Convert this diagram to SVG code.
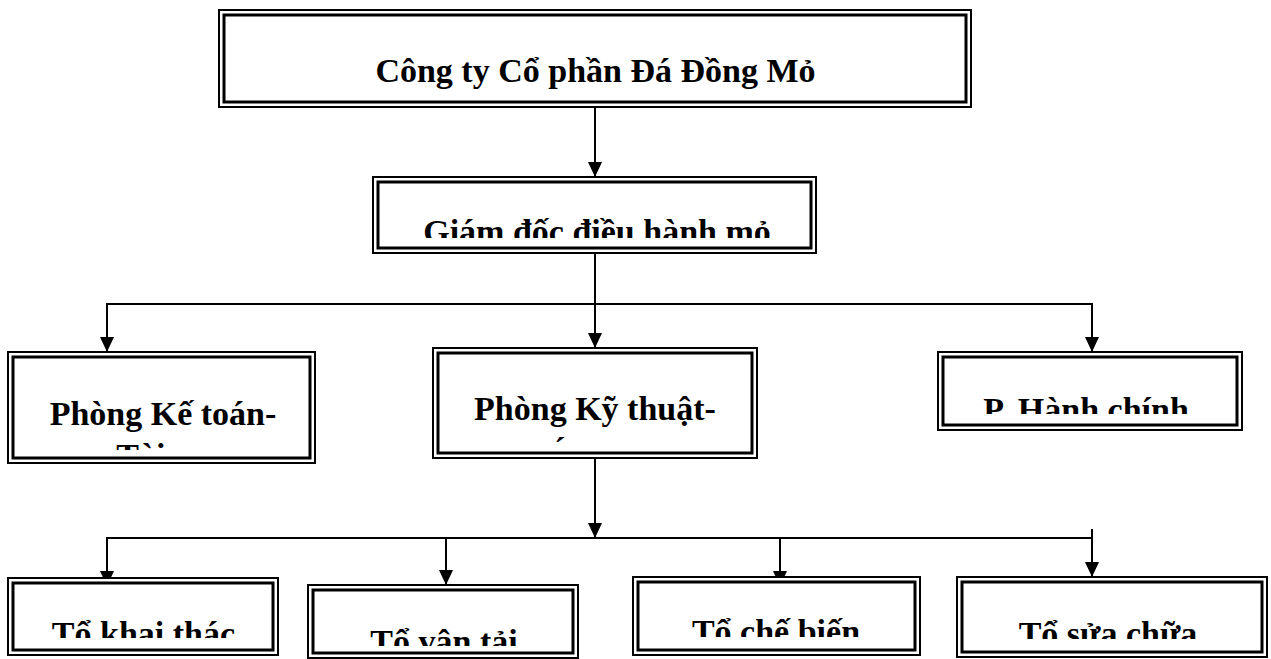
<svg xmlns="http://www.w3.org/2000/svg" width="1271" height="659" viewBox="0 0 1271 659">
<style>
.o{fill:#fff;stroke:#000;stroke-width:2}
.i{fill:none;stroke:#000;stroke-width:3}
.t{font-family:"Liberation Serif","Times New Roman",serif;font-weight:bold;font-size:34px;fill:#000;text-anchor:middle}
.c{fill:none;stroke:#000;stroke-width:2}
</style>
<defs>
<marker id="ah" markerUnits="userSpaceOnUse" markerWidth="16" markerHeight="14" refX="15" refY="7" orient="auto">
<path d="M0,0 L15,7 L0,14 z" fill="#000"/>
</marker>
<clipPath id="k2"><rect x="373" y="177" width="443" height="61"/></clipPath>
<clipPath id="k3"><rect x="8" y="352" width="307" height="98"/></clipPath>
<clipPath id="k5"><rect x="938" y="352" width="304" height="62"/></clipPath>
<clipPath id="k6"><rect x="8" y="578" width="270" height="60"/></clipPath>
<clipPath id="k7"><rect x="308" y="585" width="270" height="61"/></clipPath>
<clipPath id="k8"><rect x="633" y="577" width="287" height="60"/></clipPath>
<clipPath id="k9"><rect x="957" y="577" width="310" height="62"/></clipPath>
</defs>
<g id="connectors">
<line class="c" x1="595" y1="107" x2="595" y2="177" marker-end="url(#ah)"/>
<line class="c" x1="595" y1="253" x2="595" y2="348" marker-end="url(#ah)"/>
<polyline class="c" points="107,352 107,304 1092,304 1092,352"/>
<line class="c" x1="107" y1="320" x2="107" y2="352" marker-end="url(#ah)"/>
<line class="c" x1="1092" y1="320" x2="1092" y2="352" marker-end="url(#ah)"/>
<line class="c" x1="595" y1="458" x2="595" y2="538" marker-end="url(#ah)"/>
<polyline class="c" points="107,586 107,538 1092,538"/>
<line class="c" x1="1092" y1="529" x2="1092" y2="577" marker-end="url(#ah)"/>
<line class="c" x1="107" y1="550" x2="107" y2="586" marker-end="url(#ah)"/>
<line class="c" x1="446" y1="538" x2="446" y2="585" marker-end="url(#ah)"/>
<line class="c" x1="780" y1="538" x2="780" y2="586" marker-end="url(#ah)"/>
</g>
<g id="n1">
<rect class="o" x="219" y="10" width="752" height="97"/>
<rect class="i" x="224" y="15" width="742" height="87"/>
<text class="t" x="595.5" y="82">Công ty Cổ phần Đá Đồng Mỏ</text>
</g>
<g id="n2">
<rect class="o" x="373" y="177" width="443" height="76"/>
<rect class="i" x="378" y="182" width="433" height="66"/>
<text class="t" x="597" y="242.5" clip-path="url(#k2)">Giám đốc điều hành mỏ</text>
</g>
<g id="n3">
<rect class="o" x="8" y="352" width="307" height="111"/>
<rect class="i" x="13" y="357" width="297" height="101"/>
<g clip-path="url(#k3)">
<text class="t" x="163" y="425">Phòng Kế toán-</text>
<text class="t" x="163" y="467">Tài vụ</text>
</g>
</g>
<g id="n4">
<rect class="o" x="433" y="348" width="324" height="110"/>
<rect class="i" x="438" y="353" width="314" height="100"/>
<text class="t" x="595" y="420">Phòng Kỹ thuật-</text>
<text class="t" x="560" y="460.5">´</text>
</g>
<g id="n5">
<rect class="o" x="938" y="352" width="304" height="78"/>
<rect class="i" x="943" y="357" width="294" height="68"/>
<text class="t" x="1086" y="420.5" clip-path="url(#k5)">P. Hành chính</text>
</g>
<g id="n6">
<rect class="o" x="8" y="578" width="270" height="77"/>
<rect class="i" x="13" y="583" width="260" height="67"/>
<text class="t" x="143.5" y="644.5" clip-path="url(#k6)">Tổ khai thác</text>
</g>
<g id="n7">
<rect class="o" x="308" y="585" width="270" height="73"/>
<rect class="i" x="313" y="590" width="260" height="63"/>
<text class="t" x="444" y="652.5" clip-path="url(#k7)">Tổ vận tải</text>
</g>
<g id="n8">
<rect class="o" x="633" y="577" width="287" height="78"/>
<rect class="i" x="638" y="582" width="277" height="68"/>
<text class="t" x="776" y="642.5" clip-path="url(#k8)">Tổ chế biến</text>
</g>
<g id="n9">
<rect class="o" x="957" y="577" width="310" height="80"/>
<rect class="i" x="962" y="582" width="300" height="70"/>
<text class="t" x="1108" y="644.5" clip-path="url(#k9)">Tổ sửa chữa</text>
</g>
</svg>
